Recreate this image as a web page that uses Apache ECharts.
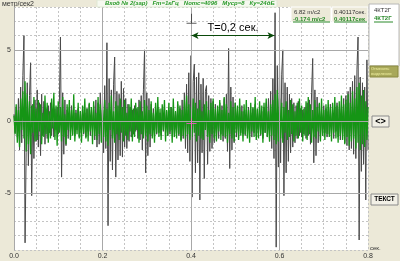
<!DOCTYPE html>
<html><head><meta charset="utf-8">
<script src="https://cdn.jsdelivr.net/npm/echarts@6/dist/echarts.min.js"></script>
<style>html,body{margin:0;padding:0;background:#ece9d8}#c{width:400px;height:261px}</style>
</head><body><div id="c"></div>
<script>
// sampling step of the record (sec)
const dt = 0.0025;
// green channel (m/s^2)
const greenVals = [
0.4,-0.9,1.2,-1.5,0.8,-1.8,1.6,-0.6,2.1,-1.2,2.8,-2.1,1.9,-1.6,1.4,-2.3,1.1,-0.8,1.7,-1.4,
0.9,-1.3,1.5,-0.7,1.2,-1.6,0.6,-1.1,1.8,-0.9,1.3,-1.5,0.7,-1.2,1.6,-0.5,2.0,-1.3,1.1,-1.7,
1.4,-0.8,1.0,-1.4,1.7,-1.1,0.5,-1.6,1.2,-0.6,1.5,-1.3,0.8,-1.0,1.9,-1.4,0.6,-0.9,1.3,-1.2,
0.7,-1.5,1.1,-0.8,1.6,-1.2,0.9,-1.4,1.3,-0.7,1.0,-1.6,1.4,-1.0,0.6,-1.3,1.7,-0.9,1.2,-1.5,
0.8,-1.1,1.5,-1.4,0.9,-1.7,1.3,-0.6,1.8,-1.2,0.7,-1.5,1.4,-0.9,1.1,-1.3,1.6,-0.8,1.0,-1.4,
1.5,-1.0,0.6,-1.3,1.2,-0.7,1.6,-1.4,0.9,-1.1,1.3,-0.6,1.0,-1.5,1.4,-0.9,0.7,-1.2,1.5,-1.0,
1.1,-1.4,0.8,-0.9,1.4,-1.2,0.6,-1.5,1.3,-0.8,1.7,-1.1,0.9,-1.3,1.2,-0.6,1.5,-1.4,0.8,-1.0,
1.3,-0.7,1.0,-1.5,1.6,-1.1,0.7,-1.2,1.4,-0.9,1.1,-1.4,0.8,-1.0,1.5,-1.2,1.8,-0.9,1.2,-1.3,
1.0,-1.1,1.6,-0.8,1.3,-1.4,0.9,-1.0,1.5,-1.2,0.7,-1.3,1.2,-0.6,1.4,-1.1,0.8,-1.5,1.3,-0.9,
1.6,-1.2,0.9,-1.4,1.1,-0.7,1.5,-1.3,0.8,-1.0,1.7,-1.1,1.2,-1.5,0.6,-0.9,1.4,-1.2,1.0,-1.4,
1.3,-0.8,1.1,-1.3,1.6,-1.0,0.7,-1.4,1.2,-0.9,1.5,-1.2,0.8,-1.5,1.3,-0.7,1.0,-1.1,1.7,-1.3,
0.9,-1.2,1.4,-0.9,1.1,-1.5,1.3,-0.8,1.6,-1.1,0.7,-1.4,1.2,-1.0,1.5,-1.3,1.9,-1.6,2.2,-1.4,
1.6,-1.2,1.3,-1.5,1.0,-0.8,1.4,-1.3,0.8,-1.1,1.5,-0.9,1.2,-1.4,0.7,-1.0,1.3,-1.2,1.6,-0.8,
1.1,-1.4,0.9,-1.0,1.4,-1.3,1.7,-0.9,1.2,-1.5,0.8,-1.1,1.5,-1.2,1.0,-0.7,1.3,-1.4,1.6,-1.0,
0.8,-1.3,1.2,-0.9,1.5,-1.1,1.0,-1.4,1.3,-0.8,1.7,-1.2,1.1,-1.5,1.4,-1.0,1.8,-1.3,1.2,-1.6,
1.5,-1.1,1.9,-1.7,1.3,-1.4,2.1,-1.2,1.6,-1.9,2.4,-1.5,2.7,-2.0,1.8,-1.6,2.2,-1.8,1.4,-1.3,
1.0
];
// grey channel with impacts (m/s^2)
const greyVals = [
0.5,-0.8,1.0,-1.1,1.6,-2.0,2.4,-1.5,3.2,6.0,-8.5,-2.2,2.7,-3.1,1.8,4.1,-5.2,1.2,-2.6,1.5,
-1.4,2.2,-1.8,1.3,-2.4,1.9,-1.0,1.4,-1.6,0.9,-1.2,1.1,-0.8,1.3,-1.0,0.7,-1.1,0.9,-0.6,1.0,
-0.9,1.2,5.9,-3.9,2.0,-2.3,1.5,-1.7,0.8,-1.2,1.0,-0.7,1.1,-0.9,0.6,-1.0,0.8,-0.6,0.9,-1.1,
0.7,-0.8,1.0,-0.9,0.6,-1.1,0.9,-0.7,1.2,-1.0,0.8,-0.6,1.1,-1.3,1.5,-1.8,1.3,-1.6,2.0,-1.4,
1.8,-2.2,2.5,-1.9,5.5,-7.3,3.0,-2.8,2.2,-3.4,2.6,4.5,-3.9,2.1,-2.7,1.9,-2.4,2.8,-2.5,2.3,
-1.8,1.6,-1.9,1.2,-1.4,1.0,-1.1,0.8,-0.9,1.1,-0.7,0.9,-1.2,1.5,-1.3,1.8,-2.0,2.2,5.0,-3.6,
2.0,-2.4,1.6,-1.8,1.2,-1.0,0.9,-1.1,0.7,-0.9,1.0,-0.8,0.6,-1.0,0.9,-0.7,1.1,-0.8,0.7,-1.0,
0.8,-0.9,1.0,-0.6,0.9,-1.1,0.7,-0.8,1.2,-1.0,0.9,-1.3,1.5,-1.2,2.0,-1.9,2.6,-2.2,3.4,-2.8,
4.6,-5.3,2.8,4.0,-3.6,3.1,-2.9,3.4,-5.5,2.6,-2.2,3.0,-4.0,2.1,2.5,-3.0,1.8,-2.1,1.6,-1.9,
1.4,-1.5,1.2,-1.3,1.0,-1.2,1.3,-0.9,1.1,-1.4,1.6,-1.2,1.9,-2.1,5.1,-3.3,2.4,-2.0,1.7,-1.5,
1.3,-1.1,0.9,-1.2,1.0,-0.8,1.1,-0.9,0.7,-1.0,0.8,-0.7,1.0,-0.9,0.6,-1.1,0.9,-0.8,1.2,-1.0,
0.8,-0.9,1.1,-1.0,0.7,-1.2,1.0,-0.8,1.3,-1.1,1.6,-1.4,2.1,-1.9,3.0,-2.6,7.6,-8.8,3.9,-3.2,
4.1,-2.9,3.3,5.0,-5.2,2.7,-3.6,2.4,-2.8,1.9,-2.2,1.6,-1.8,1.3,-1.5,1.1,-1.2,1.4,-1.0,0.9,
-1.1,0.8,-0.9,1.0,-1.2,1.3,-1.0,1.5,-1.6,2.0,4.4,-2.9,2.2,-2.4,1.7,-1.5,1.2,-1.3,0.9,-1.0,
1.1,-0.8,0.9,-1.1,0.7,-0.9,1.2,-1.0,0.8,-1.2,1.0,-0.7,1.3,-1.1,0.9,-1.3,1.4,-1.2,1.6,-1.5,
1.8,-1.7,2.1,-2.0,2.4,-1.9,2.8,-2.3,3.2,-2.6,3.6,5.9,-8.3,3.1,-3.5,2.7,-3.0,2.4,-5.5,4.3,
-2.0
];
const xTickLabels = ['0.0','0.2','0.4','0.6','0.8'];
const yTickLabels = {'5':'5','0':'0','-5':'-5'};
const solidY = [-5, 0, 5];
const solidX = [0.2, 0.4, 0.6];
const cursorT = 0.40117;
const periodEnd = 0.5887;
const arrowLevel = 6.0;
const cursorTopLevel = 6.9;
const cursorMidLevel = -0.15;

const greenData = greenVals.map((v,i)=>[+(i*dt).toFixed(4), v]);
const greyData = greyVals.map((v,i)=>[+(i*dt).toFixed(4), v]);

const FONT = 'Liberation Sans, Arial, sans-serif';
const chart = echarts.init(document.getElementById('c'), null, {renderer:'canvas'});
chart.setOption({
  animation:false,
  backgroundColor:'#ece9d8',
  grid:{left:14, right:32, top:7, bottom:11, show:true, backgroundColor:'#ffffff', borderWidth:0},
  xAxis:{type:'value', min:0, max:0.8, interval:0.05,
    axisLine:{show:false}, axisTick:{show:false},
    axisLabel:{fontSize:7, color:'#333', fontFamily:FONT, margin:3, showMaxLabel:true,
      formatter:v=>{const k=Math.round(v/0.05); return k%4===0 ? xTickLabels[k/4] : '';}},
    splitLine:{show:true, lineStyle:{color:'#c4c4c4', type:[2,2], width:1}}},
  yAxis:{type:'value', min:-9, max:8, interval:1,
    axisLine:{show:true, lineStyle:{color:'#a8a8a8'}}, axisTick:{show:false},
    axisLabel:{fontSize:7, color:'#333', fontFamily:FONT, margin:3,
      formatter:v=>yTickLabels[String(Math.round(v))]||''},
    splitLine:{show:true, lineStyle:{color:'#c4c4c4', type:[2,2], width:1}}},
  series:[
    {type:'line', data:[], z:1, silent:true,
      markLine:{silent:true, symbol:'none', label:{show:false},
        lineStyle:{color:'#a8a8a8', type:'solid', width:1},
        data:solidY.map(v=>({yAxis:v})).concat(solidX.map(v=>({xAxis:v})))}},
    {type:'line', data:greyData, z:2, symbol:'none', silent:true,
      lineStyle:{color:'#4a4a4a', width:1}},
    {type:'line', data:greenData, z:3, symbol:'none', silent:true,
      lineStyle:{color:'#159515', width:1.3}},
    {type:'line', data:[], z:5, silent:true,
      markLine:{silent:true, symbol:['arrow','arrow'], symbolSize:[5,7],
        lineStyle:{color:'#0a4a0a', type:'solid', width:1},
        label:{show:true, position:'middle', formatter:'T=0,2 сек.', color:'#000', fontSize:11, fontFamily:FONT, distance:2},
        data:[[{coord:[cursorT, arrowLevel]},{coord:[periodEnd, arrowLevel]}]]}},
    {type:'scatter', z:6, silent:true,
      data:[[cursorT, cursorTopLevel]],
      symbol:'path://M0,9h10v1h-10zM4.5,0h1v10h-1z', symbolSize:[10,10], symbolOffset:[0,-4],
      itemStyle:{color:'#333'}},
    {type:'scatter', z:6, silent:true,
      data:[[cursorT, cursorMidLevel]],
      symbol:'path://M0,4.5h10v1h-10zM4.5,0h1v10h-1z', symbolSize:[10,10],
      itemStyle:{color:'#ff55cc'}}
  ],
  graphic:[
    {type:'text', left:2, top:1, style:{text:'метр/сек2', fontSize:7, fill:'#333', fontFamily:FONT}},
    {type:'text', x:370, y:245, z:11, style:{text:'сек.', fontSize:6, fill:'#333', fontFamily:FONT}},
    {type:'rect', shape:{x:97,y:0,width:180,height:7}, style:{fill:'#f6f9f0', stroke:'#dfe8d4'}, z:10},
    {type:'text', x:105, y:0, z:11, style:{text:'Вход № 2(зар)   Fm=1кГц   Nотс=4096   Мусp=8   Ку=24дБ', fontSize:6, fontStyle:'italic', fontWeight:'bold', fill:'#2a9a2a', fontFamily:FONT}},
    {type:'rect', shape:{x:291,y:7,width:40,height:15}, style:{fill:'#ece9d8', stroke:'#ffffff'}, z:10},
    {type:'text', x:294, y:9, z:11, style:{text:'6.82 m/c2', fontSize:6, fill:'#333', fontFamily:FONT}},
    {type:'text', x:293, y:16, z:11, style:{text:'-0.174 m/c2', fontSize:6, fontWeight:'bold', fill:'#2a8a2a', fontFamily:FONT}},
    {type:'line', shape:{x1:293,y1:22,x2:330,y2:22}, style:{stroke:'#2a8a2a', lineWidth:1}, z:11},
    {type:'rect', shape:{x:332,y:7,width:36,height:15}, style:{fill:'#ece9d8', stroke:'#ffffff'}, z:10},
    {type:'text', x:334, y:9, z:11, style:{text:'0.40117сек.', fontSize:6, fill:'#333', fontFamily:FONT}},
    {type:'text', x:334, y:16, z:11, style:{text:'0.40117сек', fontSize:6, fontWeight:'bold', fill:'#2a8a2a', fontFamily:FONT}},
    {type:'line', shape:{x1:334,y1:22,x2:367,y2:22}, style:{stroke:'#2a8a2a', lineWidth:1}, z:11},
    {type:'rect', shape:{x:369,y:4,width:30,height:62}, style:{fill:'#ffffff', stroke:'#b8b8b8'}, z:10},
    {type:'text', x:374, y:7, z:11, style:{text:'4КТ2Г', fontSize:6, fill:'#333', fontFamily:FONT}},
    {type:'text', x:374, y:15, z:11, style:{text:'4КТ2Г', fontSize:6, fontWeight:'bold', fill:'#2a8a2a', fontFamily:FONT}},
    {type:'line', shape:{x1:374,y1:22,x2:393,y2:22}, style:{stroke:'#2a8a2a', lineWidth:1}, z:11},
    {type:'rect', shape:{x:370,y:66,width:28,height:11}, style:{fill:'#a8a85a', stroke:'#8a8a40'}, z:10},
    {type:'text', x:371, y:67, z:11, style:{text:'Отменить\nвыделение', fontSize:4, lineHeight:4.5, fill:'#f0f0a0', fontFamily:FONT}},
    {type:'rect', shape:{x:372,y:116,width:17,height:11}, style:{fill:'#f2f0e6', stroke:'#8a8a8a'}, z:10},
    {type:'text', x:380.5, y:121.5, z:11, style:{text:'<>', fontSize:9, fontWeight:'bold', fill:'#000', align:'center', verticalAlign:'middle', fontFamily:FONT}},
    {type:'rect', shape:{x:371,y:194,width:27,height:11}, style:{fill:'#f2f0e6', stroke:'#8a8a8a'}, z:10},
    {type:'text', x:384.5, y:199.5, z:11, style:{text:'ТЕКСТ', fontSize:6.5, fontWeight:'bold', fill:'#000', align:'center', verticalAlign:'middle', fontFamily:FONT}}
  ]
});
</script></body></html>
